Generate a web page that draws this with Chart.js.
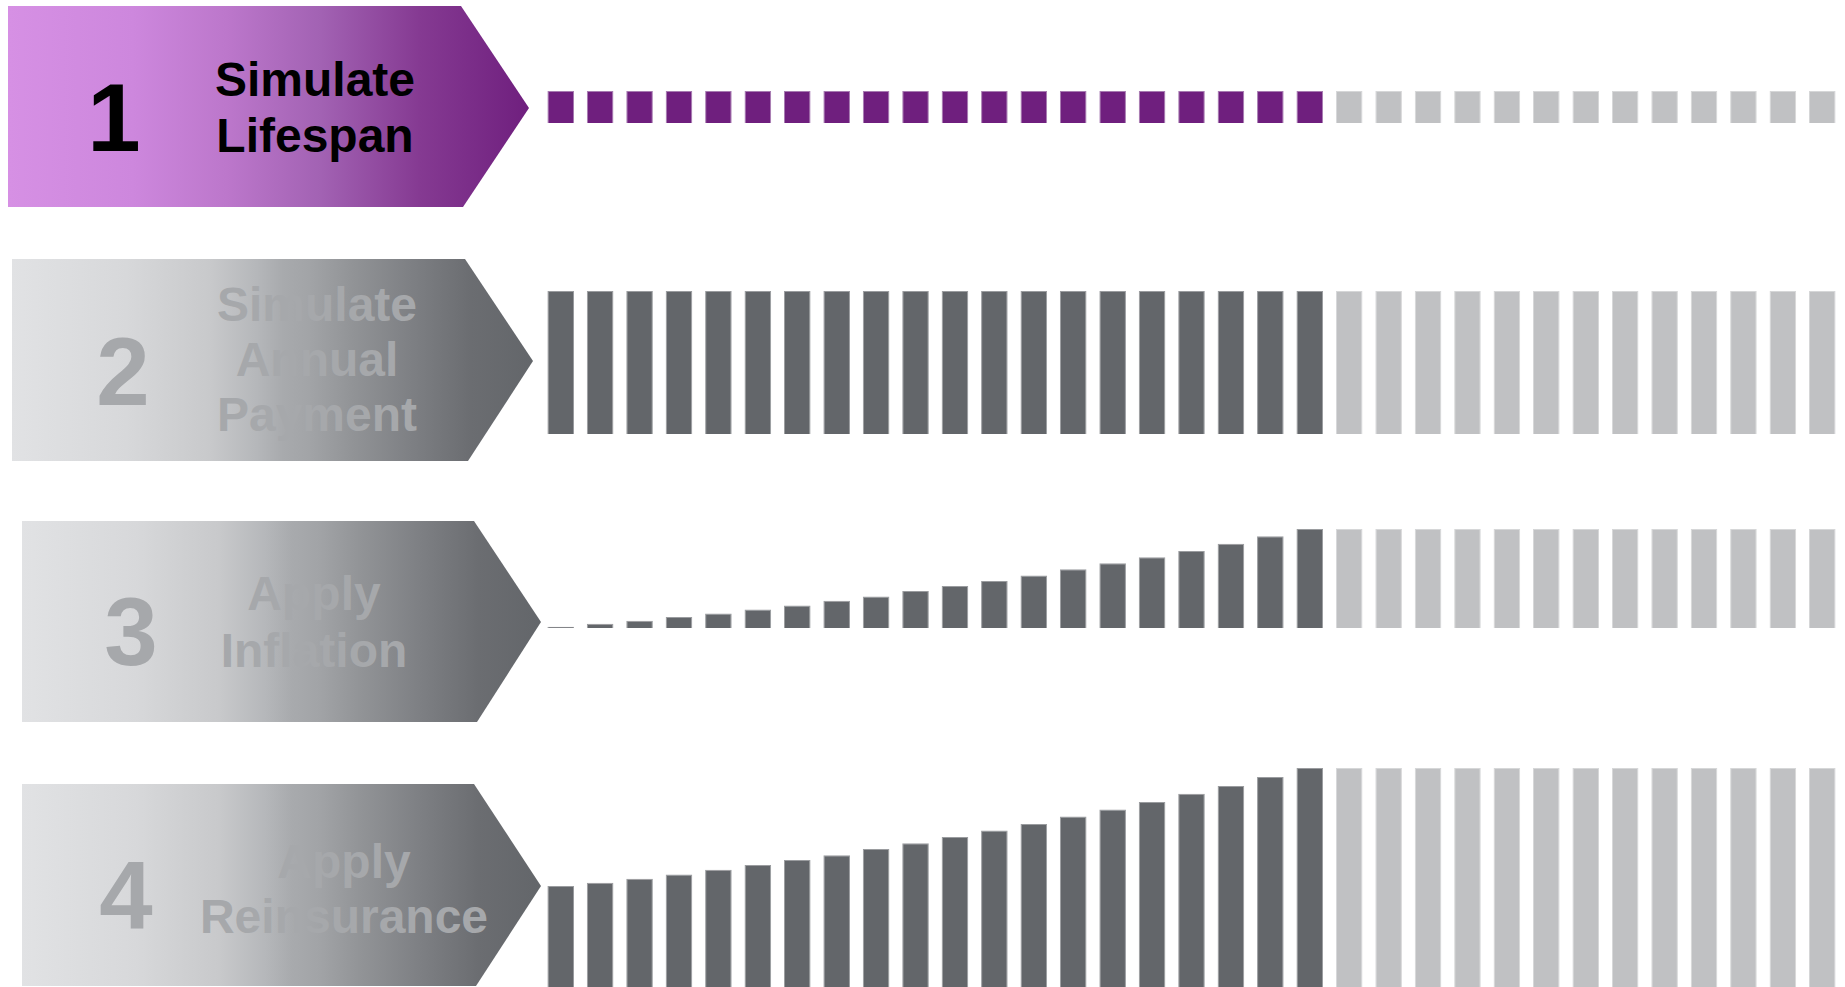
<!DOCTYPE html>
<html>
<head>
<meta charset="utf-8">
<title>Simulation steps</title>
<script src="https://cdn.jsdelivr.net/npm/chart.js@4.4.1/dist/chart.umd.min.js"></script>
<style>
  html, body { margin: 0; padding: 0; background: #fff; }
  body { width: 1845px; height: 987px; position: relative; overflow: hidden;
         font-family: "Liberation Sans", Arial, sans-serif; }
  .chev { position: absolute; }
  .chev.purple { background: linear-gradient(to right, #d690e4 0%, #cd87dd 24%, #bc77cb 42%, #a262b3 60%, #853a92 79%, #6f1f7e 100%); }
  .chev.grey { background: linear-gradient(to right, #e1e2e4 0%, #d7d8da 22%, #c8c9cb 38%, #b5b7ba 47%, #a8aaad 52%, #a2a4a7 57%, #929497 65%, #7d7f83 77%, #6b6d71 88%, #63666a 100%); }
  .num { position: absolute; width: 120px; text-align: center; font-weight: bold;
         font-size: 96px; line-height: 96px; }
  .lbl { position: absolute; width: 400px; text-align: center; font-weight: bold; font-size: 48px; }
  .on { color: #000; }
  .off { color: #a6a8ab; }
  canvas.row { position: absolute; left: 541px; }
</style>
</head>
<body>

<div class="chev purple" style="left:8px;top:6px;width:521px;height:201px;clip-path:polygon(0 0,453px 0,521px 102px,455px 201px,0 201px);"></div>
<div class="num on" style="left:54px;top:70px;">1</div>
<div class="lbl on" style="left:115px;top:52px;line-height:56px;">Simulate<br>Lifespan</div>

<div class="chev grey" style="left:12px;top:259px;width:521px;height:202px;clip-path:polygon(0 0,453px 0,521px 102px,456px 202px,0 202px);"></div>
<div class="num off" style="left:63px;top:324px;">2</div>
<div class="lbl off" style="left:117px;top:277px;line-height:55px;">Simulate<br>Annual<br>Payment</div>

<div class="chev grey" style="left:22px;top:521px;width:519px;height:201px;clip-path:polygon(0 0,452px 0,519px 101px,455px 201px,0 201px);"></div>
<div class="num off" style="left:71px;top:584px;">3</div>
<div class="lbl off" style="left:114px;top:565px;line-height:57px;">Apply<br>Inflation</div>

<div class="chev grey" style="left:22px;top:784px;width:519px;height:202px;clip-path:polygon(0 0,452px 0,519px 102px,454px 202px,0 202px);"></div>
<div class="num off" style="left:66px;top:848px;">4</div>
<div class="lbl off" style="left:144px;top:834px;line-height:55px;">Apply<br>Reinsurance</div>

<canvas class="row" id="row-lifespan" width="1301" height="32" style="top:91px;"></canvas>
<canvas class="row" id="row-payment" width="1301" height="143" style="top:291px;"></canvas>
<canvas class="row" id="row-inflation" width="1301" height="99" style="top:529px;"></canvas>
<canvas class="row" id="row-reinsurance" width="1301" height="219" style="top:768px;"></canvas>

<script>
// projection years (1..33); first 20 are inside the simulated lifespan
const years = [1,2,3,4,5,6,7,8,9,10,11,12,13,14,15,16,17,18,19,20,
               21,22,23,24,25,26,27,28,29,30,31,32,33];

// step 1: alive flag per year
const lifespanAlive = [1,1,1,1,1,1,1,1,1,1,1,1,1,1,1,1,1,1,1,1];
const lifespanAfter = [1,1,1,1,1,1,1,1,1,1,1,1,1];

// step 2: flat annual payment (index, max 100)
const paymentAlive = [100,100,100,100,100,100,100,100,100,100,100,100,100,100,100,100,100,100,100,100];
const paymentAfter = [100,100,100,100,100,100,100,100,100,100,100,100,100];

// step 3: inflation uplift (index, max 100)
const inflationAlive = [1.3,4.3,7.4,11.1,14.7,18.7,22.8,27.5,31.8,37.3,42.3,47.6,53.0,59.4,65.5,71.5,77.8,85.2,92.6,100];
const inflationAfter = [100,100,100,100,100,100,100,100,100,100,100,100,100];

// step 4: after reinsurance (index, max 100)
const reinsAlive = [46.1,47.6,49.4,51.4,53.5,55.7,58.0,60.2,63.0,65.6,68.5,71.5,74.4,77.8,81.0,84.5,88.2,91.8,95.9,100];
const reinsAfter = [100,100,100,100,100,100,100,100,100,100,100,100,100];

const PURPLE = '#6f1f7e', PURPLE_EDGE = '#a77bb1';
const DARK = '#63666a', DARK_EDGE = '#9a9c9f';
const LIGHT = '#c0c1c3', LIGHT_EDGE = '#d6d7d8';

function barRow(id, alive, after, color, edge, max){
  const n = years.length;
  const first = alive.concat(new Array(n - alive.length).fill(null));
  const second = new Array(n - after.length).fill(null).concat(after);
  const common = { grouped: false, barPercentage: 0.675, categoryPercentage: 1, borderWidth: 1 };
  return new Chart(document.getElementById(id), {
    type: 'bar',
    data: {
      labels: years,
      datasets: [
        Object.assign({ data: first, backgroundColor: color, borderColor: edge }, common),
        Object.assign({ data: second, backgroundColor: LIGHT, borderColor: LIGHT_EDGE }, common)
      ]
    },
    options: {
      responsive: false,
      animation: false,
      events: [],
      layout: { padding: 0 },
      plugins: { legend: { display: false }, tooltip: { enabled: false } },
      scales: {
        x: { display: false },
        y: { display: false, min: 0, max: max }
      }
    }
  });
}

barRow('row-lifespan', lifespanAlive, lifespanAfter, PURPLE, PURPLE_EDGE, 1);
barRow('row-payment', paymentAlive, paymentAfter, DARK, DARK_EDGE, 100);
barRow('row-inflation', inflationAlive, inflationAfter, DARK, DARK_EDGE, 100);
barRow('row-reinsurance', reinsAlive, reinsAfter, DARK, DARK_EDGE, 100);
</script>
</body>
</html>
